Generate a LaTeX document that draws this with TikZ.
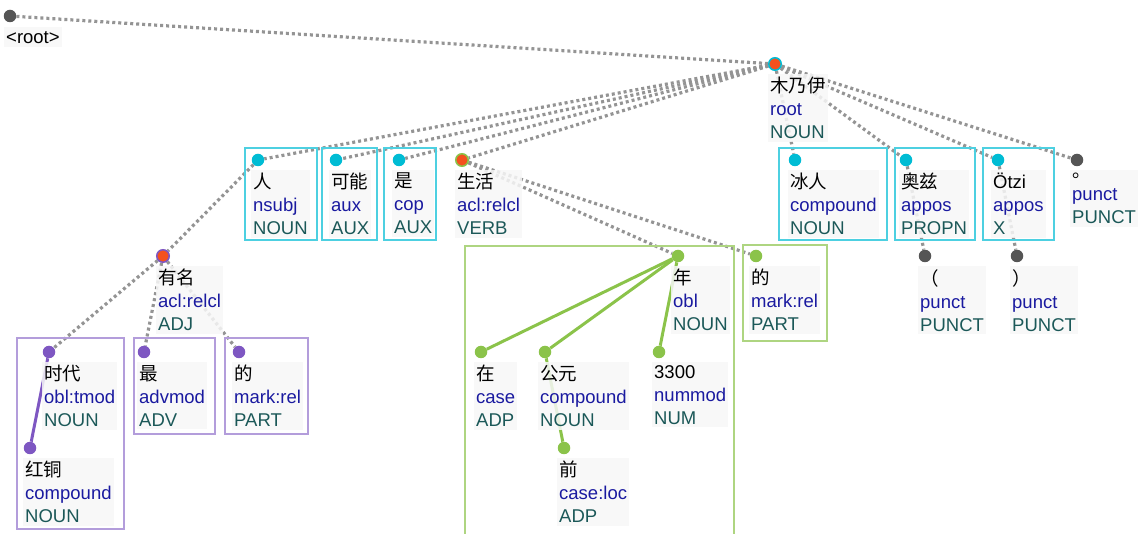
\documentclass[tikz,border=0pt]{standalone}
\usepackage{fontspec}
\setmainfont{Liberation Sans}
\newfontfamily\cjk{Noto Sans CJK SC}
\usetikzlibrary{backgrounds}
\definecolor{relc}{HTML}{1A1AA0}
\definecolor{posc}{HTML}{1B5858}
\definecolor{cyandot}{HTML}{00BCD4}
\definecolor{cyanline}{HTML}{4DD0E1}
\definecolor{purpledot}{HTML}{7E57C2}
\definecolor{purpleline}{HTML}{B39DDB}
\definecolor{greendot}{HTML}{8BC34A}
\definecolor{greenline}{HTML}{AED581}
\definecolor{headc}{HTML}{F4511E}
\definecolor{greydot}{HTML}{555555}
\tikzset{
  tok/.style={
    % The placement:
    anchor=north west,align=left,inner xsep=2pt,inner ysep=3pt,yshift=-2pt,
    % The background:
    fill=black!3,fill opacity=0.85,text opacity=1,
    % The text:
    font=\fontsize{18.5}{23}\selectfont}}
\tikzset{
  bullet/.style={circle,inner sep=0pt,minimum size=12.5pt},
  cdot/.style={bullet,fill=cyandot},
  pdot/.style={bullet,fill=purpledot},
  gdot/.style={bullet,fill=greendot},
  kdot/.style={bullet,fill=greydot},
  hdot/.style={bullet,fill=headc,draw=#1,line width=1.5pt},
  dep/.style={line width=3.2pt,draw=black!42,dash pattern=on 3pt off 3pt},
  solid dep/.style={line width=3pt,draw=#1},
  subtree/.style={draw=#1,line width=1.5pt}}

\begin{document}
\begin{tikzpicture}[x=1pt,y=-1pt]
	\useasboundingbox (0,0) rectangle (1141,534);
	% Subtree boxes
	\draw[subtree=cyanline] (245,148) rectangle (317,240);
	\draw[subtree=cyanline] (322,148) rectangle (377,240);
	\draw[subtree=cyanline] (384,148) rectangle (436,240);
	\draw[subtree=cyanline] (779,148) rectangle (887,240);
	\draw[subtree=cyanline] (895,148) rectangle (975,240);
	\draw[subtree=cyanline] (983,148) rectangle (1054,240);
	\draw[subtree=purpleline] (17,338) rectangle (124,529);
	\draw[subtree=purpleline] (134,338) rectangle (215,434);
	\draw[subtree=purpleline] (225,338) rectangle (308,434);
	\draw[subtree=greenline] (465,545) -- (465,246) -- (734,246) -- (734,545);
	\draw[subtree=greenline] (743,245) rectangle (827,341);
	% Dots
	\node[kdot] (root) at (10,16) {};
	\node[hdot=cyandot] (mny) at (775,64) {};
	\node[cdot] (ren) at (258,160) {};
	\node[cdot] (kn) at (336,160) {};
	\node[cdot] (shi) at (399,160) {};
	\node[hdot=greendot] (sh) at (462,160) {};
	\node[cdot] (br) at (795,160) {};
	\node[cdot] (az) at (906,160) {};
	\node[cdot] (oz) at (998,160) {};
	\node[kdot] (jh) at (1077,160) {};
	\node[hdot=purpledot] (ym) at (163,256) {};
	\node[gdot] (nian) at (678,256) {};
	\node[gdot] (deb) at (756,256) {};
	\node[kdot] (lk) at (925,256) {};
	\node[kdot] (rk) at (1017,256) {};
	\node[pdot] (sd) at (49,352) {};
	\node[pdot] (zui) at (144,352) {};
	\node[pdot] (dea) at (239,352) {};
	\node[gdot] (zai) at (481,352) {};
	\node[gdot] (gy) at (545,352) {};
	\node[gdot] (ss) at (659,352) {};
	\node[pdot] (ht) at (30,448) {};
	\node[gdot] (qian) at (564,448) {};
	% Texts
	\node[tok,inner ysep=4pt] (roott) at (4,25) {<root>};
	\node[tok] (mnyt) at (768,72) {{\cjk 木乃伊}\\{\color{relc}root}\\{\color{posc}NOUN}};
	\node[tok] (rent) at (251,168) {{\cjk 人}\\{\color{relc}nsubj}\\{\color{posc}NOUN}};
	\node[tok] (knt) at (329,168) {{\cjk 可能}\\{\color{relc}aux}\\{\color{posc}AUX}};
	\node[tok] (shit) at (392,168) {{\cjk 是}\\{\color{relc}cop}\\{\color{posc}AUX}};
	\node[tok] (sht) at (455,168) {{\cjk 生活}\\{\color{relc}acl:relcl}\\{\color{posc}VERB}};
	\node[tok] (brt) at (788,168) {{\cjk 冰人}\\{\color{relc}compound}\\{\color{posc}NOUN}};
	\node[tok] (azt) at (899,168) {{\cjk 奥兹}\\{\color{relc}appos}\\{\color{posc}PROPN}};
	\node[tok] (ozt) at (991,168) {Ötzi\\{\color{relc}appos}\\{\color{posc}X}};
	\node[tok] (jht) at (1070,168) {{\cjk 。}\\{\color{relc}punct}\\{\color{posc}PUNCT}};
	\node[tok] (ymt) at (156,264) {{\cjk 有名}\\{\color{relc}acl:relcl}\\{\color{posc}ADJ}};
	\node[tok] (niant) at (671,264) {{\cjk 年}\\{\color{relc}obl}\\{\color{posc}NOUN}};
	\node[tok] (debt) at (749,264) {{\cjk 的}\\{\color{relc}mark:rel}\\{\color{posc}PART}};
	\node[tok] (lkt) at (918,264) {{\cjk （}\\{\color{relc}punct}\\{\color{posc}PUNCT}};
	\node[tok] (rkt) at (1010,264) {{\cjk ）}\\{\color{relc}punct}\\{\color{posc}PUNCT}};
	\node[tok] (sdt) at (42,360) {{\cjk 时代}\\{\color{relc}obl:tmod}\\{\color{posc}NOUN}};
	\node[tok] (zuit) at (137,360) {{\cjk 最}\\{\color{relc}advmod}\\{\color{posc}ADV}};
	\node[tok] (deat) at (232,360) {{\cjk 的}\\{\color{relc}mark:rel}\\{\color{posc}PART}};
	\node[tok] (zait) at (474,360) {{\cjk 在}\\{\color{relc}case}\\{\color{posc}ADP}};
	\node[tok] (gyt) at (538,360) {{\cjk 公元}\\{\color{relc}compound}\\{\color{posc}NOUN}};
	\node[tok] (sst) at (652,360) {3300\\{\color{relc}nummod}\\{\color{posc}NUM}};
	\node[tok] (htt) at (23,456) {{\cjk 红铜}\\{\color{relc}compound}\\{\color{posc}NOUN}};
	\node[tok] (qiant) at (557,456) {{\cjk 前}\\{\color{relc}case:loc}\\{\color{posc}ADP}};
	\begin{scope}[on background layer]
		% Lines out of root and mny
		\draw[dep] (root) -- (mny);
		\foreach \t in {ren,kn,shi,sh,br,az,oz,jh}
			\draw[dep] (mny) -- (\t);
		% Lines out of ren and ym
		\draw[dep] (ren) -- (ym);
		\foreach \t in {sd,zui,dea}
			\draw[dep] (ym) -- (\t);
		\draw[solid dep=purpledot] (sd) -- (ht);
		% Lines out of sh and nian
		\draw[dep] (sh) -- (nian);
		\draw[dep] (sh) -- (deb);
		\foreach \t in {zai,gy,ss}
			\draw[solid dep=greendot] (nian) -- (\t);
		\draw[solid dep=greendot] (gy) -- (qian);
		% Brackets
		\draw[dep] (az) -- (lk);
		\draw[dep] (oz) -- (rk);
	\end{scope}
\end{tikzpicture}
\end{document}
